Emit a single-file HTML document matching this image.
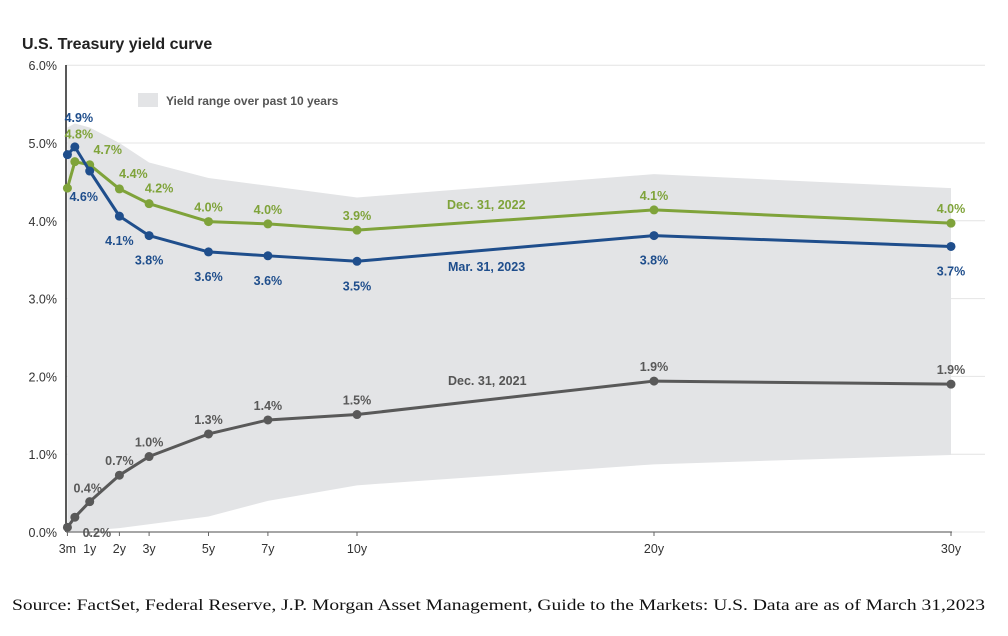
<!DOCTYPE html>
<html><head><meta charset="utf-8"><style>
body{margin:0;background:#fff;width:1008px;height:636px;overflow:hidden}
svg{display:block}
text{font-family:"Liberation Sans",Arial,sans-serif}
</style></head><body>
<svg id="chart" width="1008" height="636">
<text x="22" y="49" font-size="16" font-weight="bold" fill="#222">U.S. Treasury yield curve</text>
<g id="grid"></g><g id="band"></g><g id="axes"></g><g id="series"></g>
<rect x="138" y="93" width="20" height="14" fill="#e3e4e6"/>
<text x="166" y="105" font-size="12" font-weight="bold" fill="#555">Yield range over past 10 years</text>
<text x="447" y="209" font-size="12.5" font-weight="bold" fill="#7fa33a">Dec. 31, 2022</text>
<text x="448" y="271" font-size="12.5" font-weight="bold" fill="#1f4e8c">Mar. 31, 2023</text>
<text x="448" y="385" font-size="12.5" font-weight="bold" fill="#555">Dec. 31, 2021</text>
<text x="12" y="610" font-size="16" textLength="973" lengthAdjust="spacingAndGlyphs" fill="#111" style="font-family:'Liberation Serif',serif">Source: FactSet, Federal Reserve, J.P. Morgan Asset Management, Guide to the Markets: U.S. Data are as of March 31,2023</text>
</svg>
<script>
const maturities=[0.25,0.5,1,2,3,5,7,10,20,30];
const tickLabels=["3m","1y","2y","3y","5y","7y","10y","20y","30y"];
const tickMaturities=[0.25,1,2,3,5,7,10,20,30];
const yTicks=[0,1,2,3,4,5,6];
const mar2023=[4.85,4.95,4.64,4.06,3.81,3.60,3.55,3.48,3.81,3.67];
const dec2022=[4.42,4.76,4.72,4.41,4.22,3.99,3.96,3.88,4.14,3.97];
const dec2021=[0.06,0.19,0.39,0.73,0.97,1.26,1.44,1.51,1.94,1.90];
const mar2023Labels=["","4.9%","4.6%","4.1%","3.8%","3.6%","3.6%","3.5%","3.8%","3.7%"];
const dec2022Labels=["","4.8%","4.7%","4.4%","4.2%","4.0%","4.0%","3.9%","4.1%","4.0%"];
const dec2021Labels=["","0.2%","0.4%","0.7%","1.0%","1.3%","1.4%","1.5%","1.9%","1.9%"];
const bandMaturities=[0.25,0.5,1,2,3,5,7,10,20,30];
const bandHigh=[5.2,5.25,5.2,5.0,4.75,4.55,4.45,4.3,4.6,4.42];
const bandLow=[0,0,0.02,0.05,0.1,0.2,0.4,0.6,0.87,0.99];

const X=m=>60+29.7*m;
const Y=v=>532-v*77.8;
const NS="http://www.w3.org/2000/svg";
function mk(tag,attrs,parent,txt){const e=document.createElementNS(NS,tag);for(const k in attrs)e.setAttribute(k,attrs[k]);if(txt!==undefined)e.textContent=txt;document.getElementById(parent).appendChild(e);return e;}

yTicks.forEach(v=>{
 const g=mk('line',{x1:66,x2:985,y1:Y(v),y2:Y(v),stroke:'#e4e4e4','stroke-width':1},'grid');
 
 
 const t=mk('text',{x:57,y:Y(v)+5,'font-size':12.5,fill:'#333','text-anchor':'end'},'axes',v.toFixed(1)+'%');
 
 
});
let d='';
bandMaturities.forEach((m,i)=>{d+=(i?'L':'M')+X(m)+','+Y(bandHigh[i]);});
for(let i=bandMaturities.length-1;i>=0;i--)d+='L'+X(bandMaturities[i])+','+Y(bandLow[i]);
const b=mk('path',{d:d+'Z',fill:'#e3e4e6'},'band');


const ax=mk('line',{x1:66,x2:66,y1:65,y2:532,stroke:'#222','stroke-width':1.5},'axes');


const xx=mk('line',{x1:66,x2:952,y1:532,y2:532,stroke:'#888','stroke-width':1.5},'axes');


tickMaturities.forEach((m,i)=>{
 const tk=mk('line',{x1:X(m),x2:X(m),y1:532,y2:536,stroke:'#666'},'axes');
 
 
 const t=mk('text',{x:X(m),y:553,'font-size':12.5,fill:'#333','text-anchor':'middle'},'axes',tickLabels[i]);
 
 
});
const offBlue=[[0,0],[4,-25],[-6,30],[0,29],[0,29],[0,29],[0,29],[0,29],[0,29],[0,29]];
const offGreen=[[0,0],[4,-23],[18,-11],[14,-11],[10,-11],[0,-10],[0,-10],[0,-10],[0,-10],[0,-10]];
const offGray=[[0,0],[22,20],[-2,-9],[0,-10],[0,-10],[0,-10],[0,-10],[0,-10],[0,-10],[0,-10]];
function drawSeries(vals,labels,off,color,name){
 const p=vals.map((v,i)=>X(maturities[i])+','+Y(v)).join(' ');
 const l=mk('polyline',{points:p,fill:'none',stroke:color,'stroke-width':3,'stroke-linejoin':'round'},'series');
 
 
 vals.forEach((v,i)=>{
  const c=mk('circle',{cx:X(maturities[i]),cy:Y(v),r:4.5,fill:color},'series');
  
  
  if(labels[i]){
   const t=mk('text',{x:X(maturities[i])+off[i][0],y:Y(v)+off[i][1],'font-size':12.5,'font-weight':'bold',fill:color,'text-anchor':'middle'},'series',labels[i]);
   
   
  }
 });
}
drawSeries(dec2021,dec2021Labels,offGray,'#595959','dec-2021');
drawSeries(dec2022,dec2022Labels,offGreen,'#7fa33a','dec-2022');
drawSeries(mar2023,mar2023Labels,offBlue,'#1f4e8c','mar-2023');
</script>
</body></html>
